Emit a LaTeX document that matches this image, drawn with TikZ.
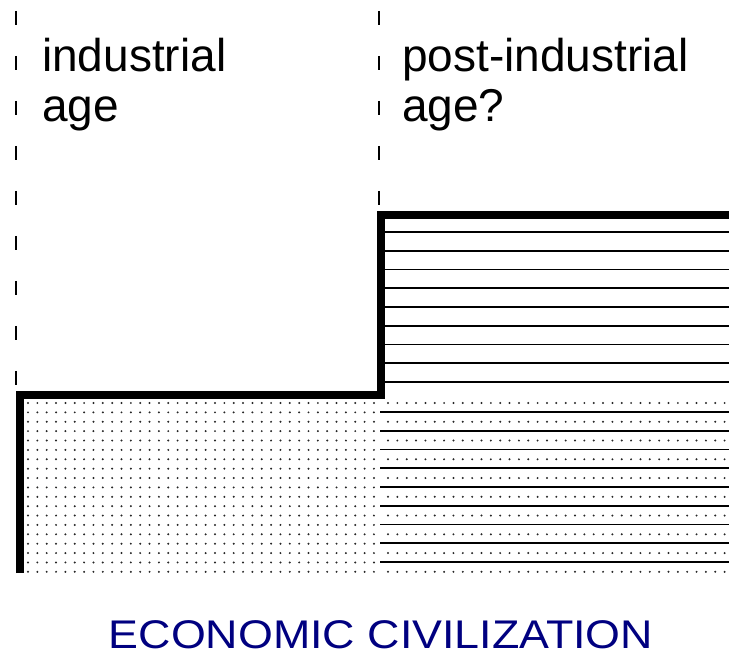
\documentclass[tikz,border=0pt]{standalone}
\usepackage{fontspec}
\setmainfont{Liberation Sans}
\definecolor{econblue}{HTML}{000080}

\begin{document}
\begin{tikzpicture}[
    x=1pt, y=-1pt,
    step line/.style={line width=8.5pt, line join=miter},
    age divider/.style={line width=1.8pt, dash pattern=on 14pt off 31pt},
    hatch/.style={line width=1.8pt},
    dot/.style={fill=black!85, draw=none},
    age label/.style={font=\fontsize{46}{50}\selectfont, align=left, inner sep=0pt, anchor=base west},
    title label/.style={font=\fontsize{40}{44}\selectfont, text=econblue, inner sep=0pt, anchor=base, xscale=1.12}
]
\useasboundingbox (0,0) rectangle (729,655);

% dotted ground of both ages
\foreach \i in {0,...,37}
  \foreach \j in {0,...,18}
    \fill[dot] ({28+\i*9.35},{403+\j*9.38}) circle (1.1);
\foreach \i in {0,...,36}
  \foreach \j in {0,...,9}
    \fill[dot] ({388+\i*9.35},{403+\j*18.76}) circle (1.1);

% hatching of the post-industrial step
\foreach \k in {0,...,8} {
  \draw[hatch] (380,{412+\k*18.76}) -- (729,{412+\k*18.76});
  \draw[hatch] (384,{232+\k*18.75}) -- (729,{232+\k*18.75});
}

% age dividers
\coordinate (lefttop) at (16,11);
\coordinate (leftend) at (16,390);
\coordinate (righttop) at (379,11);
\coordinate (rightend) at (379,212);
\draw[age divider] (lefttop) -- (leftend);
\draw[age divider] (righttop) -- (rightend);

% the step
\coordinate (base) at (20,573);
\coordinate (low) at (20,395);
\coordinate (riser) at (381,395);
\coordinate (tread) at (381,215);
\coordinate (high) at (729,215);
\draw[step line] (base) -- (low) -- (riser) -- (tread) -- (high);

\node[age label] (industrial) at (42,122) {industrial\\age};
\node[age label] (postindustrial) at (402,122) {post-industrial\\age?};

\node[title label] (civilization) at (381,648) {ECONOMIC CIVILIZATION};

\end{tikzpicture}
\end{document}
